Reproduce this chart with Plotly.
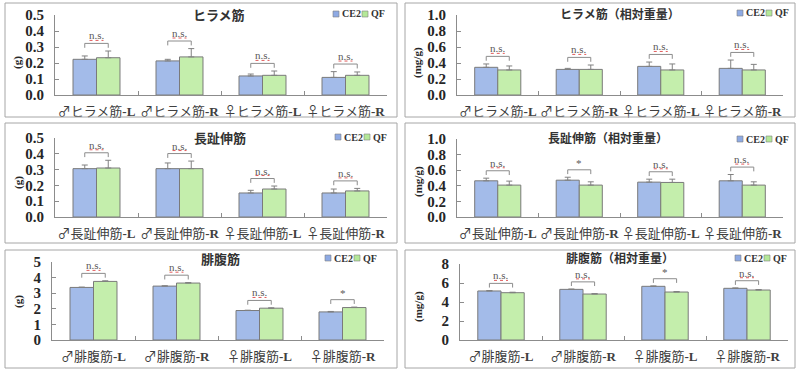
import plotly.graph_objects as go

# ---------------- data ----------------
groups = ["CE2", "QF"]

cats_hirame = ["♂ヒラメ筋-L", "♂ヒラメ筋-R", "♀ヒラメ筋-L", "♀ヒラメ筋-R"]
cats_choshi = ["♂長趾伸筋-L", "♂長趾伸筋-R", "♀長趾伸筋-L", "♀長趾伸筋-R"]
cats_hifuku = ["♂腓腹筋-L", "♂腓腹筋-R", "♀腓腹筋-L", "♀腓腹筋-R"]

titles = ["ヒラメ筋", "ヒラメ筋（相対重量）", "長趾伸筋", "長趾伸筋（相対重量）",
          "腓腹筋", "腓腹筋（相対重量）"]
units = ["(g)", "(mg/g)", "(g)", "(mg/g)", "(g)", "(mg/g)"]

# ヒラメ筋 (g)
hirame_ce2 = [0.223, 0.213, 0.119, 0.110]
hirame_ce2_err = [0.021, 0.010, 0.012, 0.036]
hirame_qf = [0.233, 0.238, 0.123, 0.123]
hirame_qf_err = [0.042, 0.052, 0.027, 0.021]
hirame_sig = ["n.s.", "n.s.", "n.s.", "n.s."]

# ヒラメ筋 相対重量 (mg/g)
hirame_rel_ce2 = [0.346, 0.320, 0.358, 0.333]
hirame_rel_ce2_err = [0.042, 0.013, 0.054, 0.104]
hirame_rel_qf = [0.313, 0.320, 0.313, 0.313]
hirame_rel_qf_err = [0.050, 0.055, 0.075, 0.070]
hirame_rel_sig = ["n.s.", "n.s.", "n.s.", "n.s."]

# 長趾伸筋 (g)
choshi_ce2 = [0.306, 0.306, 0.152, 0.152]
choshi_ce2_err = [0.023, 0.036, 0.017, 0.025]
choshi_qf = [0.310, 0.306, 0.177, 0.165]
choshi_qf_err = [0.049, 0.048, 0.019, 0.016]
choshi_sig = ["n.s.", "n.s.", "n.s.", "n.s."]

# 長趾伸筋 相対重量 (mg/g)
choshi_rel_ce2 = [0.464, 0.472, 0.447, 0.464]
choshi_rel_ce2_err = [0.034, 0.038, 0.038, 0.081]
choshi_rel_qf = [0.409, 0.409, 0.443, 0.409]
choshi_rel_qf_err = [0.051, 0.042, 0.042, 0.042]
choshi_rel_sig = ["n.s.", "*", "n.s.", "n.s."]

# 腓腹筋 (g)
hifuku_ce2 = [3.37, 3.455, 1.89, 1.80]
hifuku_ce2_err = [0.02, 0.02, 0.02, 0.03]
hifuku_qf = [3.755, 3.65, 2.04, 2.08]
hifuku_qf_err = [0.04, 0.03, 0.02, 0.03]
hifuku_sig = ["n.s.", "n.s.", "n.s.", "*"]

# 腓腹筋 相対重量 (mg/g)
hifuku_rel_ce2 = [5.16, 5.33, 5.65, 5.44]
hifuku_rel_ce2_err = [0.04, 0.03, 0.04, 0.04]
hifuku_rel_qf = [4.98, 4.84, 5.05, 5.26]
hifuku_rel_qf_err = [0.05, 0.04, 0.05, 0.05]
hifuku_rel_sig = ["n.s.", "n.s.", "*", "n.s."]

y_max = [0.5, 1.0, 0.5, 1.0, 5, 8]
y_dtick = [0.1, 0.2, 0.1, 0.2, 1, 2]
y_fmt = [".1f", ".1f", ".1f", ".1f", "d", "d"]

# ---------------- layout (pixels) ----------------
W, H = 800, 372
def fx(p): return p / W
def fy(p): return 1 - p / H

# box (x0,y0,x1,y1), plot (x0,x1,ytop,ybottom), title (cx,cy,size), legend (x,cy), unit (cx,cy)
geom = [
    dict(box=(5, 3, 397, 117), plot=(55, 387, 15, 95), title=(219, 15, 13), leg=(333, 14), unit=(18, 63)),
    dict(box=(405, 3, 795, 117), plot=(457, 783, 15, 95), title=(620, 14, 12), leg=(737, 13), unit=(418, 63)),
    dict(box=(5, 123, 397, 243), plot=(55, 387, 138, 217), title=(220, 137, 13), leg=(335, 137), unit=(18, 183)),
    dict(box=(405, 123, 795, 243), plot=(457, 783, 139, 217), title=(608, 137, 12), leg=(737, 139), unit=(418, 182)),
    dict(box=(5, 250, 397, 368), plot=(52, 384, 262, 340), title=(220, 258, 13), leg=(325, 258), unit=(18, 302)),
    dict(box=(405, 250, 795, 368), plot=(460, 788, 264, 340), title=(620, 257, 12), leg=(735, 258), unit=(418, 307)),
]

panels = [
    (cats_hirame, hirame_ce2, hirame_ce2_err, hirame_qf, hirame_qf_err, hirame_sig),
    (cats_hirame, hirame_rel_ce2, hirame_rel_ce2_err, hirame_rel_qf, hirame_rel_qf_err, hirame_rel_sig),
    (cats_choshi, choshi_ce2, choshi_ce2_err, choshi_qf, choshi_qf_err, choshi_sig),
    (cats_choshi, choshi_rel_ce2, choshi_rel_ce2_err, choshi_rel_qf, choshi_rel_qf_err, choshi_rel_sig),
    (cats_hifuku, hifuku_ce2, hifuku_ce2_err, hifuku_qf, hifuku_qf_err, hifuku_sig),
    (cats_hifuku, hifuku_rel_ce2, hifuku_rel_ce2_err, hifuku_rel_qf, hifuku_rel_qf_err, hifuku_rel_sig),
]

BLUE = "#a3bbe9"
GREEN = "#c4eeac"
BLUE_LEG = "#8eaae4"
GREEN_LEG = "#b4e898"
OUTLINE = "#7a7a7a"
AXIS = "#8c8c8c"
TXT = "#404040"
BARGAP = 0.434
half = (1 - BARGAP) / 4  # bar centre offset from category centre

fig = go.Figure()
shapes = []
annotations = []
layout_axes = {}

for k, (cats, ce2, ce2e, qf, qfe, sig) in enumerate(panels):
    g = geom[k]
    sfx = "" if k == 0 else str(k + 1)
    xa, ya = "x" + sfx, "y" + sfx

    for name, vals, errs, col in [("CE2", ce2, ce2e, BLUE), ("QF", qf, qfe, GREEN)]:
        fig.add_trace(go.Bar(
            x=cats, y=vals, name=name, xaxis=xa, yaxis=ya, showlegend=False,
            marker=dict(color=col, line=dict(color=OUTLINE, width=1)),
            error_y=dict(type="data", array=errs, arrayminus=[0] * len(errs),
                         symmetric=False, color="#808080", thickness=1, width=3),
        ))

    px0, px1, pyt, pyb = g["plot"]
    ticktext = [c[:-2] + '<span style="font-family:Liberation Serif;font-weight:bold">'
                + c[-2:] + "</span>" for c in cats]
    layout_axes["xaxis" + sfx] = dict(
        domain=[fx(px0), fx(px1)], anchor=ya, type="category",
        categoryorder="array", categoryarray=cats,
        tickvals=cats, ticktext=ticktext, tickson="boundaries", tickangle=0,
        ticks="inside", ticklen=4, tickcolor=AXIS,
        showline=True, linecolor=AXIS, linewidth=1, showgrid=False,
        tickfont=dict(family="Noto Sans CJK JP", size=13, color=TXT),
        ticklabelstandoff=4, fixedrange=True, automargin=False,
    )
    layout_axes["yaxis" + sfx] = dict(
        domain=[fy(pyb), fy(pyt)], anchor=xa, range=[0, y_max[k]],
        dtick=y_dtick[k], tick0=0, tickformat=y_fmt[k],
        ticks="inside", ticklen=4, tickcolor=AXIS,
        showline=True, linecolor=AXIS, linewidth=1, showgrid=False, zeroline=False,
        tickfont=dict(family="Liberation Serif", size=15, color="#262626", weight="bold"),
        ticklabelstandoff=7, fixedrange=True, automargin=False,
    )

    # panel box
    bx0, by0, bx1, by1 = g["box"]
    shapes.append(dict(type="rect", xref="paper", yref="paper",
                       x0=fx(bx0), x1=fx(bx1), y0=fy(by1), y1=fy(by0),
                       line=dict(color="#a6a6a6", width=1), fillcolor="rgba(0,0,0,0)"))
    # title
    tx, ty, ts = g["title"]
    annotations.append(dict(xref="paper", yref="paper", x=fx(tx), y=fy(ty),
                            xanchor="center", yanchor="middle", showarrow=False,
                            text="<b>" + titles[k] + "</b>",
                            font=dict(family="Noto Sans CJK JP", size=ts, color="#333333")))
    # unit
    ux, uy = g["unit"]
    annotations.append(dict(xref="paper", yref="paper", x=fx(ux), y=fy(uy),
                            xanchor="center", yanchor="middle", showarrow=False,
                            textangle=-90, text="<b>" + units[k] + "</b>",
                            font=dict(family="Liberation Serif", size=11, color="#262626")))
    # legend
    lx, ly = g["leg"]
    for off, col, lab in [(0, BLUE_LEG, groups[0]), (29, GREEN_LEG, groups[1])]:
        shapes.append(dict(type="rect", xref="paper", yref="paper",
                           x0=fx(lx + off), x1=fx(lx + off + 6), y0=fy(ly + 3), y1=fy(ly - 3),
                           line=dict(color="#7f7f7f", width=0.6), fillcolor=col))
        annotations.append(dict(xref="paper", yref="paper", x=fx(lx + off + 7), y=fy(ly),
                                xanchor="left", yanchor="middle", showarrow=False,
                                text="<b>" + lab + "</b>",
                                font=dict(family="Liberation Serif", size=10, color="#333333")))

    # significance brackets
    rng = y_max[k]
    for i, c in enumerate(cats):
        top = max(ce2[i] + ce2e[i], qf[i] + qfe[i]) + 0.095 * rng
        bottom = top - 0.055 * rng
        xl, xr = i - half, i + half
        for (a0, b0, a1, b1) in [(xl, top, xr, top), (xl, bottom, xl, top), (xr, bottom, xr, top)]:
            shapes.append(dict(type="line", xref=xa, yref=ya, x0=a0, y0=b0, x1=a1, y1=b1,
                               line=dict(color="#8c8c8c", width=1)))
        annotations.append(dict(xref=xa, yref=ya, x=i, y=top, xanchor="center",
                                yanchor="bottom", yshift=0 if sig[i] == "n.s." else -1,
                                showarrow=False, text=sig[i],
                                font=dict(family="Liberation Serif", size=11, color="#595959")))
        if sig[i] == "n.s.":
            shapes.append(dict(type="line", xref=xa, yref=ya,
                               xsizemode="pixel", xanchor=i, x0=-7, x1=7,
                               ysizemode="pixel", yanchor=top, y0=3, y1=3,
                               line=dict(color="#e05a5a", width=1, dash="dot")))

fig.update_layout(
    width=W, height=H, margin=dict(l=0, r=0, t=0, b=0),
    paper_bgcolor="white", plot_bgcolor="white",
    barmode="group", bargap=BARGAP, bargroupgap=0,
    showlegend=False, shapes=shapes, annotations=annotations,
    **layout_axes,
)

fig.write_html("out.html", config={"displayModeBar": False},
               post_script="document.body.style.margin='0px';")
